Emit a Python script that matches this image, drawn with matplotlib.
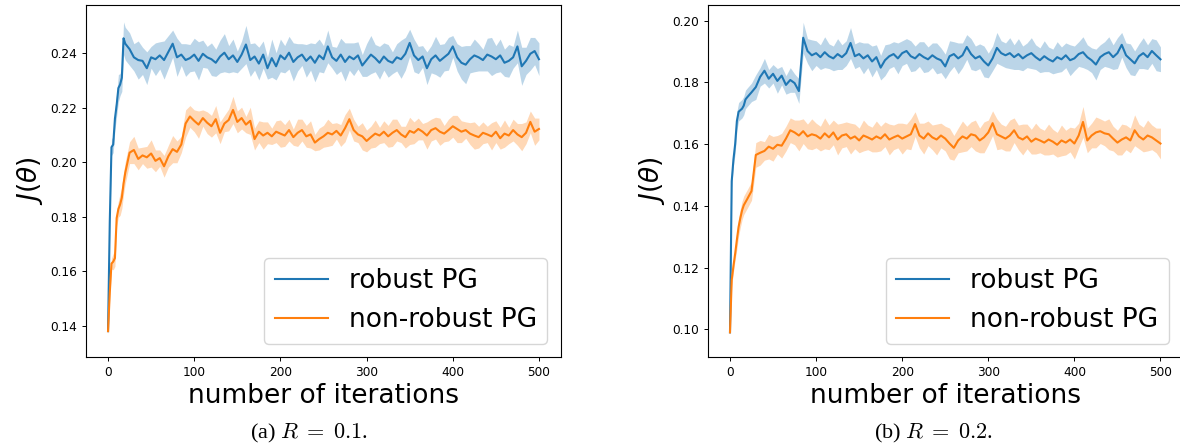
import numpy as np
import matplotlib
matplotlib.use("Agg")
import matplotlib.pyplot as plt

# iteration grid the values were read on
iters = [0, 2, 4, 6, 8, 10, 12, 14, 16, 18, 20] + list(range(25, 505, 5))

# (a) R = 0.1
a_robust = [0.138, 0.178, 0.2055, 0.2065, 0.216, 0.221, 0.2272, 0.2285, 0.231, 0.2455, 0.2435,
            0.2415, 0.2385, 0.2375, 0.2372, 0.2345, 0.2385, 0.2378, 0.2392, 0.2375, 0.2405,
            0.2435, 0.2385, 0.2395, 0.2375, 0.2382, 0.2395, 0.2372, 0.2398, 0.2385, 0.2378,
            0.2365, 0.2388, 0.2402, 0.2378, 0.2392, 0.2368, 0.2395, 0.2432, 0.2375, 0.2388,
            0.2362, 0.2395, 0.2345, 0.2382, 0.2352, 0.2392, 0.2378, 0.2402, 0.2368, 0.2385,
            0.2395, 0.2372, 0.2388, 0.2365, 0.2392, 0.2378, 0.2425, 0.2385, 0.2372, 0.2395,
            0.2368, 0.2388, 0.2378, 0.2392, 0.2355, 0.2375, 0.2395, 0.2382, 0.2365, 0.2388,
            0.2372, 0.2365, 0.2385, 0.2378, 0.2398, 0.2438, 0.2392, 0.2375, 0.2388, 0.2345,
            0.2378, 0.2392, 0.2372, 0.2385, 0.2398, 0.2425, 0.2385, 0.2365, 0.2358, 0.2378,
            0.2392, 0.2385, 0.2375, 0.2395, 0.2388, 0.2378, 0.2392, 0.2365, 0.2372, 0.2385,
            0.2425, 0.2352, 0.2372, 0.2398, 0.2408, 0.2378]
a_nonrobust = [0.138, 0.152, 0.1628, 0.1635, 0.1648, 0.1795, 0.1828, 0.1845, 0.187, 0.1922, 0.1962,
               0.2035, 0.2045, 0.2012, 0.2025, 0.2018, 0.2032, 0.2005, 0.2015, 0.1985, 0.2022,
               0.2048, 0.2038, 0.2065, 0.2142, 0.2168, 0.2152, 0.2138, 0.2162, 0.2145, 0.2132,
               0.2158, 0.2108, 0.2142, 0.2155, 0.2192, 0.2148, 0.2162, 0.2138, 0.2152, 0.2085,
               0.2112, 0.2098, 0.2108, 0.2095, 0.2112, 0.2105, 0.2098, 0.2118, 0.2092, 0.2108,
               0.2118, 0.2095, 0.2102, 0.2072, 0.2085, 0.2095, 0.2108, 0.2102, 0.2115, 0.2098,
               0.2125, 0.2158, 0.2118, 0.2102, 0.2095, 0.2078, 0.2092, 0.2105, 0.2098, 0.2112,
               0.2095, 0.2108, 0.2118, 0.2102, 0.2092, 0.2115, 0.2108, 0.2122, 0.2112, 0.2098,
               0.2118, 0.2125, 0.2112, 0.2105, 0.2118, 0.2132, 0.2122, 0.2112, 0.2118, 0.2105,
               0.2098, 0.2092, 0.2108, 0.2102, 0.2095, 0.2112, 0.2088, 0.2105, 0.2098, 0.2118,
               0.2102, 0.2092, 0.2108, 0.2148, 0.2112, 0.2122]

# (b) R = 0.2
b_robust = [0.099, 0.148, 0.155, 0.160, 0.1675, 0.1705, 0.171, 0.1715, 0.1725, 0.1745, 0.1752,
            0.1768, 0.1785, 0.1818, 0.1838, 0.1812, 0.1828, 0.1805, 0.1822, 0.1792, 0.1808,
            0.1798, 0.1772, 0.1945, 0.1902, 0.1888, 0.1895, 0.1882, 0.1898, 0.1885, 0.1878,
            0.1892, 0.1882, 0.1895, 0.1928, 0.1885, 0.1892, 0.1878, 0.1888, 0.1868, 0.1882,
            0.1848, 0.1872, 0.1885, 0.1892, 0.1878, 0.1895, 0.1902, 0.1885, 0.1878, 0.1892,
            0.1882, 0.1875, 0.1888, 0.1878, 0.1872, 0.1852, 0.1885, 0.1892, 0.1878, 0.1888,
            0.1915, 0.1892, 0.1878, 0.1885, 0.1868, 0.1855, 0.1878, 0.1912, 0.1895, 0.1888,
            0.1895, 0.1882, 0.1892, 0.1878, 0.1888, 0.1895, 0.1882, 0.1872, 0.1885, 0.1875,
            0.1868, 0.1882, 0.1875, 0.1888, 0.1872, 0.1878, 0.1892, 0.1898, 0.1882, 0.1872,
            0.1858, 0.1882, 0.1892, 0.1898, 0.1882, 0.1895, 0.1922, 0.1888, 0.1875, 0.1862,
            0.1885, 0.1895, 0.1882, 0.1902, 0.1888, 0.1875]
b_nonrobust = [0.099, 0.116, 0.1205, 0.1245, 0.129, 0.1332, 0.136, 0.1385, 0.1402, 0.1412, 0.1422,
               0.1448, 0.1565, 0.1572, 0.1578, 0.1592, 0.1585, 0.1598, 0.1595, 0.1618, 0.1645,
               0.1638, 0.1628, 0.1642, 0.1625, 0.1632, 0.1628, 0.1618, 0.1635, 0.1622, 0.1638,
               0.1615, 0.1628, 0.1632, 0.1618, 0.1625, 0.1612, 0.1628, 0.1622, 0.1615, 0.1625,
               0.1618, 0.1632, 0.1615, 0.1622, 0.1628, 0.1618, 0.1625, 0.1632, 0.1665, 0.1628,
               0.1618, 0.1635, 0.1622, 0.1615, 0.1628, 0.1618, 0.1602, 0.1588, 0.1612, 0.1625,
               0.1618, 0.1632, 0.1628, 0.1612, 0.1622, 0.1638, 0.1668, 0.1632, 0.1625, 0.1618,
               0.1628, 0.1645, 0.1622, 0.1615, 0.1625, 0.1608, 0.1618, 0.1612, 0.1605, 0.1615,
               0.1608, 0.1598, 0.1612, 0.1605, 0.1615, 0.1602, 0.1628, 0.1672, 0.1612, 0.1628,
               0.1638, 0.1642, 0.1635, 0.1632, 0.1618, 0.1605, 0.1615, 0.1622, 0.1612, 0.1645,
               0.1625, 0.1615, 0.1628, 0.1622, 0.1612, 0.1602]

# half width of the shaded bands, in units of 1e-3
a_robust_spread = [1, 2, 3, 3, 4, 4, 5, 4, 5, 6, 6,
                   6, 5, 7, 5, 6, 4, 6, 5, 7, 6,
                   5, 7, 4, 6, 5, 6, 7, 5, 4, 6,
                   5, 6, 7, 5, 6, 4, 5, 7, 6, 5,
                   6, 5, 4, 7, 5, 6, 5, 6, 7, 5,
                   4, 6, 5, 7, 6, 5, 6, 4, 5, 6,
                   7, 5, 6, 5, 4, 6, 7, 5, 6, 5,
                   6, 4, 5, 7, 6, 5, 6, 5, 4, 6,
                   5, 7, 6, 5, 6, 4, 5, 6, 7, 5,
                   6, 5, 4, 6, 7, 5, 6, 5, 6, 4,
                   6, 7, 5, 6, 5, 6]
a_nonrobust_spread = [1, 2, 2, 3, 3, 3, 3, 4, 4, 4, 4,
                      4, 5, 4, 3, 4, 5, 4, 3, 4, 4,
                      5, 4, 3, 5, 4, 4, 5, 3, 4, 4,
                      5, 4, 3, 4, 5, 4, 4, 3, 5, 4,
                      4, 5, 4, 3, 4, 5, 4, 4, 3, 5,
                      4, 4, 5, 3, 4, 4, 5, 4, 3, 4,
                      5, 4, 4, 3, 5, 4, 4, 5, 3, 4,
                      4, 5, 4, 3, 4, 5, 4, 4, 3, 5,
                      4, 4, 5, 3, 4, 4, 5, 4, 3, 4,
                      5, 4, 4, 3, 5, 4, 4, 5, 3, 4,
                      4, 5, 4, 4, 5, 4]
b_robust_spread = [1, 2, 2, 3, 3, 3, 3, 3, 3, 3, 3,
                   3, 4, 3, 4, 3, 3, 4, 3, 3, 4,
                   3, 4, 5, 4, 5, 4, 4, 5, 4, 4,
                   5, 4, 4, 5, 4, 4, 5, 4, 5, 4,
                   4, 5, 4, 4, 5, 4, 4, 5, 4, 4,
                   5, 4, 4, 5, 4, 4, 5, 4, 5, 4,
                   4, 5, 4, 4, 5, 4, 4, 5, 4, 4,
                   5, 4, 5, 4, 4, 5, 4, 4, 5, 4,
                   4, 5, 4, 4, 5, 4, 4, 5, 4, 4,
                   5, 4, 4, 5, 4, 5, 4, 4, 5, 4,
                   4, 5, 4, 4, 5, 4]
b_nonrobust_spread = [1, 2, 2, 2, 3, 3, 3, 3, 3, 3, 3,
                      3, 4, 4, 3, 4, 4, 3, 4, 4, 4,
                      4, 5, 4, 4, 5, 4, 4, 5, 4, 4,
                      5, 4, 4, 5, 4, 4, 5, 4, 4, 5,
                      4, 4, 5, 4, 4, 5, 4, 5, 4, 4,
                      5, 4, 4, 5, 4, 4, 5, 4, 4, 5,
                      4, 4, 5, 4, 5, 4, 4, 5, 4, 4,
                      5, 4, 4, 5, 4, 4, 5, 4, 4, 5,
                      4, 4, 5, 4, 4, 5, 4, 5, 4, 4,
                      5, 4, 4, 5, 4, 4, 5, 4, 4, 5,
                      4, 4, 5, 4, 4, 5]

labels = ["robust PG", "non-robust PG"]
captions = [r"(a) $R\;=\;0.1$.", r"(b) $R\;=\;0.2$."]
y_ticks = [[0.14, 0.16, 0.18, 0.20, 0.22, 0.24],
           [0.10, 0.12, 0.14, 0.16, 0.18, 0.20]]
y_limits = [(0.1285, 0.2577), (0.0910, 0.2051)]

panels = [
    (a_robust, a_robust_spread, a_nonrobust, a_nonrobust_spread),
    (b_robust, b_robust_spread, b_nonrobust, b_nonrobust_spread),
]

fig = plt.figure(figsize=(11.8, 4.47), dpi=100)
ax_boxes = [[0.0733, 0.2013, 0.4017, 0.7875], [0.6004, 0.2013, 0.4013, 0.7875]]
caption_x = [0.262, 0.791]
colors = ["#1f77b4", "#ff7f0e"]

x = np.array(iters)
for k, (rob, rob_s, non, non_s) in enumerate(panels):
    ax = fig.add_axes(ax_boxes[k])
    for vals, spread, c, lab in [(rob, rob_s, colors[0], labels[0]),
                                 (non, non_s, colors[1], labels[1])]:
        y = np.array(vals)
        s = np.array(spread) * 1e-3
        ax.fill_between(x, y - s, y + s, color=c, alpha=0.3, linewidth=0)
        ax.plot(x, y, color=c, linewidth=1.5, label=lab)
    ax.set_xlim(-25, 525)
    ax.set_ylim(*y_limits[k])
    ax.set_xticks([0, 100, 200, 300, 400, 500])
    ax.set_yticks(y_ticks[k])
    ax.set_yticklabels([f"{t:.2f}" for t in y_ticks[k]])
    ax.tick_params(labelsize=8.7, length=3, width=0.7)
    for sp in ax.spines.values():
        sp.set_linewidth(0.8)
    ax.set_xlabel("number of iterations", fontsize=19, labelpad=3)
    ax.set_ylabel(r"$J(\theta)$", fontsize=19, labelpad=4)
    ax.legend(loc="lower right", fontsize=19, handlelength=2.0)
    fig.text(caption_x[k], 0.031, captions[k], ha="center", va="center",
             fontsize=16, family="Liberation Serif", math_fontfamily="cm")

fig.savefig("out.png", dpi=100)
